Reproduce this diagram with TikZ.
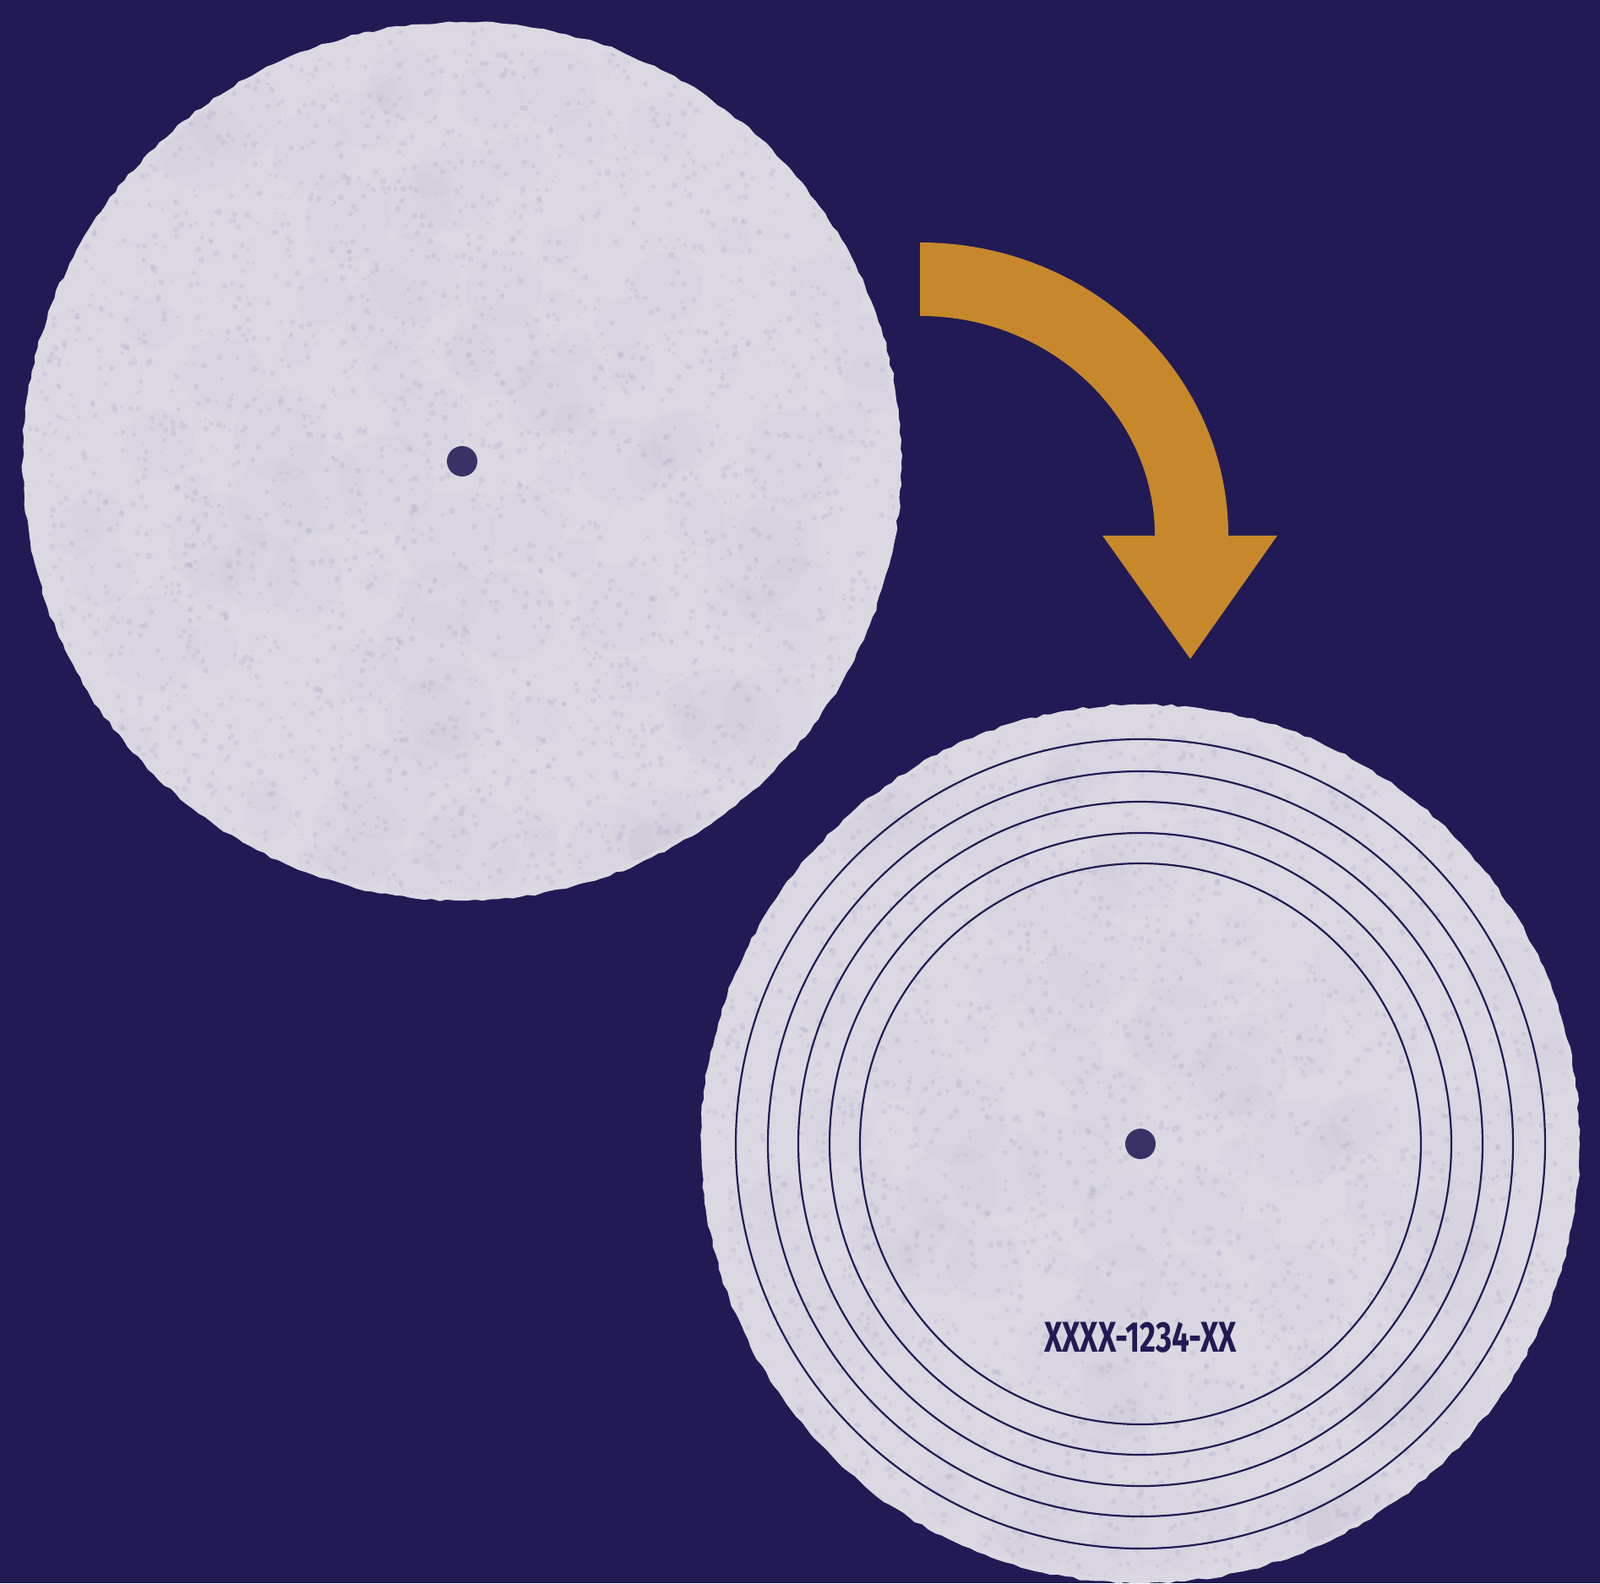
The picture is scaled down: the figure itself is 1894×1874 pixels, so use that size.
\documentclass[tikz,border=0pt]{standalone}
\usepackage{fontspec}
\usepackage{graphicx}
\setmainfont{Fira Sans}
\usetikzlibrary{decorations.pathmorphing,calc}
\definecolor{bg}{HTML}{221A54}
\definecolor{disc}{HTML}{DCD8E2}
\definecolor{mottle}{HTML}{9E98BE}
\definecolor{hole}{HTML}{3A3266}
\definecolor{orng}{HTML}{C6882B}
\tikzset{
  discbody/.style={fill=disc, decorate, decoration={random steps, segment length=9pt, amplitude=1.5pt}},
  groove/.style={draw=bg, line width=2.2pt},
  holedot/.style={fill=hole},
  arrowshape/.style={fill=orng},
  serial/.style={text=bg, font=\fontsize{51}{51}\selectfont\bfseries, inner sep=0pt}
}
\newcommand{\mottledisc}[3]{%
  \begin{scope}
    \clip (#1,#2) circle (#3);
    \pgfmathsetseed{7}
    \foreach \i in {1,...,110} {
      \pgfmathsetmacro{\ang}{rnd*360}
      \pgfmathsetmacro{\rad}{sqrt(rnd)*#3}
      \fill[mottle, opacity=0.045] ($(#1,#2)+(\ang:\rad)$) circle ({15+rnd*45});
    }
    \foreach \i in {1,...,2400} {
      \pgfmathsetmacro{\ang}{rnd*360}
      \pgfmathsetmacro{\rad}{sqrt(rnd)*#3}
      \fill[mottle, opacity=0.18] ($(#1,#2)+(\ang:\rad)$) circle ({1.2+rnd*2.8});
    }
  \end{scope}}
\begin{document}
\begin{tikzpicture}[x=1pt,y=-1pt]
  \fill[bg] (0,0) rectangle (1894,1874);
  \useasboundingbox (0,0) rectangle (1894,1874);

  % top-left disc
  \path[discbody] (547,546) circle (520);
  \mottledisc{547}{546}{515}
  \fill[holedot] (547,546) circle (18);
  \node (hole1) at (547,546) {};

  % bottom-right disc
  \path[discbody] (1350,1354) circle (520);
  \mottledisc{1350}{1354}{515}
  \foreach \r in {332,368,405,441,479} {
    \draw[groove] (1350,1354) circle (\r);
  }
  \fill[holedot] (1350,1354) circle (18);
  \node (hole2) at (1350,1354) {};
  \node[serial] (code) at (1350,1583) {\scalebox{0.72}[1]{XXXX-1234-XX}};

  % curved arrow
  \coordinate (ac) at (1089,634);
  \fill[arrowshape] (1089,287) arc[start angle=-90, end angle=0, x radius=365, y radius=347]
    -- (1512,634) -- (1409,780) -- (1305,634) -- (1367,634)
    arc[start angle=0, end angle=-90, x radius=278, y radius=260] -- cycle;
\end{tikzpicture}
\end{document}
